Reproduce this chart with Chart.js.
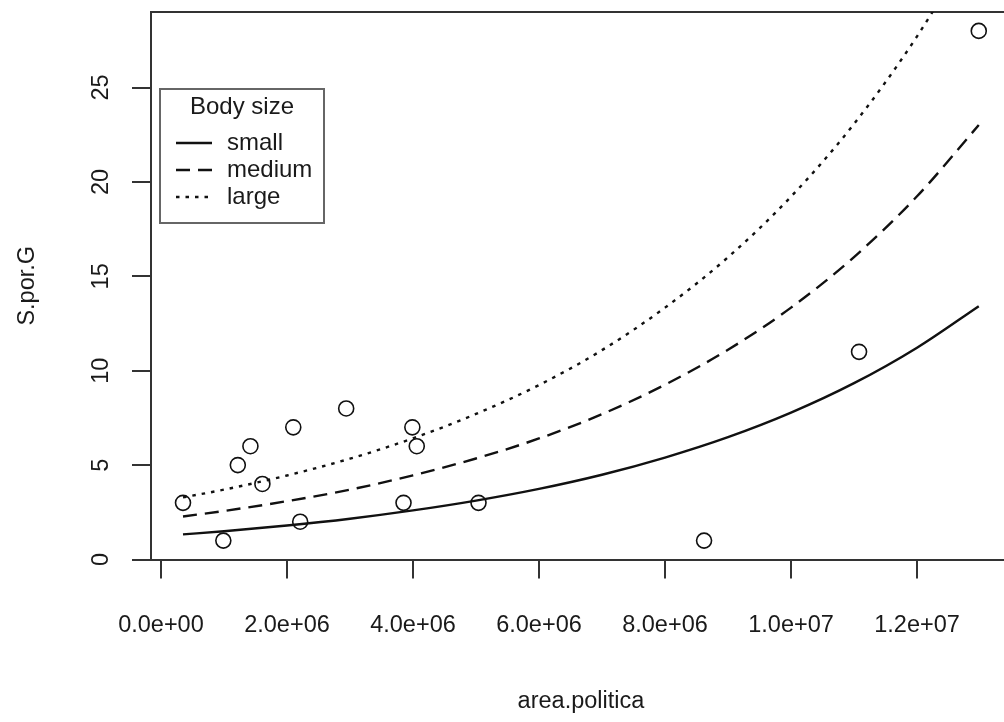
<!DOCTYPE html>
<html>
<head>
<meta charset="utf-8">
<script src="https://cdn.jsdelivr.net/npm/chart.js@4.4.1/dist/chart.umd.min.js"></script>
<style>
  body { margin: 0; overflow: hidden; background: #fff; }
  canvas { display: block; }
</style>
</head>
<body>
<canvas id="grafico" width="1020" height="722"></canvas>
<script>
// pontos observados (area.politica x S.por.G)
const areaPolitica = [0.35e6, 0.99e6, 1.22e6, 1.42e6, 1.61e6, 2.10e6, 2.21e6, 2.94e6, 3.85e6, 3.99e6, 4.06e6, 5.04e6, 8.62e6, 11.08e6, 12.98e6];
const sPorG = [3, 1, 5, 6, 4, 7, 2, 8, 3, 7, 6, 3, 1, 11, 28];

// curvas ajustadas
const curvaX = [0.35e6, 1e6, 2e6, 3e6, 4e6, 5e6, 6e6, 7e6, 8e6, 9e6, 10e6, 11e6, 12e6, 12.98e6];
const curvaSmall = [1.33, 1.50, 1.80, 2.16, 2.60, 3.12, 3.74, 4.49, 5.40, 6.48, 7.78, 9.34, 11.22, 13.42];
const curvaMedium = [2.28, 2.57, 3.09, 3.70, 4.46, 5.35, 6.41, 7.70, 9.26, 11.11, 13.34, 16.02, 19.24, 23.01];
const curvaLarge = [3.29, 3.70, 4.45, 5.34, 6.42, 7.71, 9.24, 11.09, 13.34, 16.01, 19.22, 23.07, 27.71, 33.1];

const ticksX = [0, 2e6, 4e6, 6e6, 8e6, 10e6, 12e6];
const labelsX = ["0.0e+00", "2.0e+06", "4.0e+06", "6.0e+06", "8.0e+06", "1.0e+07", "1.2e+07"];
const ticksY = [0, 5, 10, 15, 20, 25];

const legendaTitulo = "Body size";
const legendaNomes = ["small", "medium", "large"];
const legendaTracos = [[], [14, 8], [3.5, 6]];

const fonte = '"Liberation Sans", Arial, sans-serif';
const corTexto = "#1a1a1a";
const corEixo = "#333";

function juntar(xs, ys) {
  return xs.map((x, i) => ({ x, y: ys[i] }));
}

function curva(ys, traco) {
  return {
    type: "line",
    data: juntar(curvaX, ys),
    borderColor: "#111",
    borderWidth: 2.4,
    borderDash: traco,
    borderCapStyle: "butt",
    pointRadius: 0,
    showLine: true,
    fill: false,
    cubicInterpolationMode: "monotone",
  };
}

// legenda com caixa, no estilo do R
const legendaR = {
  id: "legendaR",
  afterDraw(chart) {
    const ctx = chart.ctx;
    const area = chart.chartArea;
    const x0 = area.left + 9, y0 = area.top + 77;
    const w = 164, h = 134;
    ctx.save();
    ctx.fillStyle = "#fff";
    ctx.fillRect(x0, y0, w, h);
    ctx.strokeStyle = "#666";
    ctx.lineWidth = 2;
    ctx.strokeRect(x0, y0, w, h);

    ctx.fillStyle = corTexto;
    ctx.font = "24px " + fonte;
    ctx.textBaseline = "middle";
    ctx.textAlign = "center";
    ctx.fillText(legendaTitulo, x0 + 82, y0 + 18);

    ctx.textAlign = "left";
    legendaNomes.forEach((nome, i) => {
      const y = y0 + 54 + i * 27;
      ctx.beginPath();
      ctx.setLineDash(legendaTracos[i]);
      ctx.lineWidth = 2.4;
      ctx.strokeStyle = "#111";
      ctx.moveTo(x0 + 16, y);
      ctx.lineTo(x0 + 52, y);
      ctx.stroke();
      ctx.fillText(nome, x0 + 67, y);
    });
    ctx.restore();
  },
};

const grafico = new Chart(document.getElementById("grafico"), {
  type: "scatter",
  data: {
    datasets: [
      curva(curvaSmall, []),
      curva(curvaMedium, [14, 8]),
      curva(curvaLarge, [3.5, 6]),
      {
        data: juntar(areaPolitica, sPorG),
        pointStyle: "circle",
        pointRadius: 7.5,
        pointBorderWidth: 1.6,
        pointBorderColor: "#111",
        pointBackgroundColor: "rgba(0,0,0,0)",
        showLine: false,
      },
    ],
  },
  options: {
    responsive: false,
    animation: false,
    events: [],
    layout: { padding: { left: 0, top: 0, right: 7, bottom: 0 } },
    plugins: { legend: { display: false }, tooltip: { enabled: false } },
    scales: {
      x: {
        type: "linear",
        position: "bottom",
        min: -0.158e6,
        max: 13.49e6,
        afterBuildTicks: s => { s.ticks = ticksX.map(v => ({ value: v })); },
        afterFit: s => { s.height = 162.5; s.paddingLeft = 0; s.paddingRight = 0; },
        ticks: {
          callback: v => labelsX[ticksX.indexOf(v)],
          font: { family: fonte, size: 23.5 },
          color: corTexto,
          padding: 33,
          maxRotation: 0,
          autoSkip: false,
        },
        grid: { drawOnChartArea: false, drawTicks: true, tickLength: 19, color: corEixo, lineWidth: 2 },
        border: { display: true, color: corEixo, width: 2 },
        title: { display: true, text: "area.politica", color: corTexto, font: { family: fonte, size: 23.5 }, padding: { bottom: 6 } },
      },
      xTopo: {
        type: "linear",
        position: "top",
        min: -0.158e6,
        max: 13.49e6,
        afterFit: s => { s.height = 12; s.paddingLeft = 0; s.paddingRight = 0; },
        ticks: { display: false },
        grid: { display: false },
        border: { display: true, color: corEixo, width: 2 },
      },
      y: {
        type: "linear",
        position: "left",
        min: 0,
        max: 29,
        afterBuildTicks: s => { s.ticks = ticksY.map(v => ({ value: v })); },
        afterFit: s => { s.width = 151; s.paddingTop = 0; s.paddingBottom = 0; },
        ticks: {
          font: { family: fonte, size: 23.5 },
          color: corTexto,
          minRotation: 90,
          maxRotation: 90,
          crossAlign: "center",
          padding: 17.5,
          autoSkip: false,
        },
        grid: { drawOnChartArea: false, drawTicks: true, tickLength: 19, color: corEixo, lineWidth: 2 },
        border: { display: true, color: corEixo, width: 2 },
        title: { display: true, text: "S.por.G", color: corTexto, font: { family: fonte, size: 23.5 }, padding: { top: 13 } },
      },
    },
  },
  plugins: [legendaR],
});
</script>
</body>
</html>
